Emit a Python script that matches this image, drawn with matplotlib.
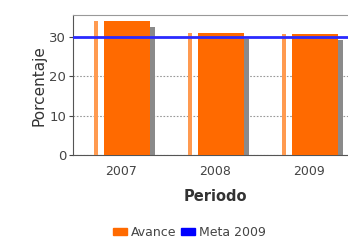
import matplotlib
matplotlib.use("Agg")
import matplotlib.pyplot as plt
from matplotlib.patches import Patch
import numpy as np

# --- Data ---
periodos = ["2007", "2008", "2009"]
avance = [34.0, 31.0, 30.8]
meta_2009 = 30.0

ORANGE = "#ff6a00"
ORANGE_LIGHT = "#ff9a50"
SHADOW = "#8a8a8a"
BLUE = "#2a2aff"

fig = plt.figure(figsize=(3.48, 2.40), dpi=100)
ax = fig.add_axes([0.21, 0.354, 0.816, 0.583])

x = np.arange(len(periodos))
vals = np.array(avance)

# pseudo-3D bar: thin light strip, main face, grey side shadow
ax.bar(x - 0.27, vals, width=0.04, color=ORANGE_LIGHT, zorder=3)
ax.bar(x + 0.335, vals - 1.5, width=0.05, color=SHADOW, zorder=2)
ax.bar(x + 0.065, vals, width=0.49, color=ORANGE, zorder=3)

ax.axhline(meta_2009, color=BLUE, lw=2, zorder=4)

ax.set_xlim(-0.51, 2.51)
ax.set_ylim(0, 35.6)
ax.set_yticks([0, 10, 20, 30])
ax.set_xticks(x)
ax.set_xticklabels(periodos)
ax.tick_params(axis="x", length=0, labelsize=9, colors="#444444", pad=7)
ax.tick_params(axis="y", length=3, labelsize=9.5, colors="#444444", pad=2)
ax.grid(axis="y", color="#999999", linestyle=(0, (1.5, 1.5)), lw=0.8, zorder=1)

for side in ["top", "right"]:
    ax.spines[side].set_color("#999999")
for side in ["left", "bottom"]:
    ax.spines[side].set_color("#555555")

ax.set_xlabel("Periodo", fontsize=10.5, color="#333333", fontweight="bold", labelpad=8)
ax.set_ylabel("Porcentaje", fontsize=11, color="#333333", labelpad=2)

handles = [Patch(color=ORANGE, label="Avance"), Patch(color="#0000ff", label="Meta 2009")]
fig.legend(handles=handles, loc="center", bbox_to_anchor=(0.545, 0.03), ncol=2,
           frameon=False, fontsize=9, handlelength=1.1, handleheight=0.5,
           handletextpad=0.3, columnspacing=0.4, labelcolor="#444444")

fig.savefig("out.png", dpi=100)
